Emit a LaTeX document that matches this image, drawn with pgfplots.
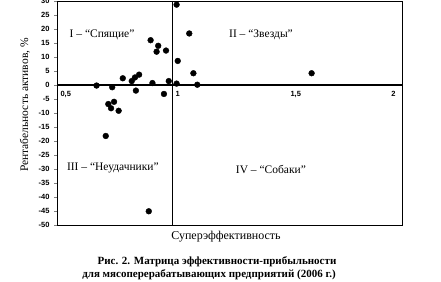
\documentclass[border=0pt]{standalone}
\usepackage{fontspec}
\setmainfont{Liberation Serif}
\setsansfont{Liberation Sans}
\usepackage{pgfplots}
\pgfplotsset{compat=1.18}
\begin{document}
\begin{tikzpicture}
\begin{axis}[
  at={(0pt,0pt)}, anchor=south west,
  scale only axis, width=345pt, height=224pt,
  xmin=0.5, xmax=2, ymin=-50, ymax=30,
  axis line style={line width=0.9pt},
  ytick={-50,-45,...,30},
  yticklabels={-50,-45,-40,-35,-30,-25,-20,-15,-10,-5,0,5,10,15,20,25,30},
  ytick pos=left, tick align=outside, major tick length=3pt,
  ytick style={line width=0.6pt},
  yticklabel style={font=\sffamily\bfseries\fontsize{7.5}{8}\selectfont, xshift=-1pt},
  xtick={0.5,1,1.5}, xticklabels={{0,5},{1},{1,5}},
  extra x ticks={2}, extra x tick labels={2},
  extra x tick style={xticklabel style={anchor=north east, xshift=-3pt}},
  xtick style={draw=none},
  xticklabel style={font=\sffamily\bfseries\fontsize{7.5}{8}\selectfont, anchor=north west, yshift=140pt, xshift=0pt},
  clip=false,
]
\draw[line width=1.6pt] (axis cs:0.5,0) -- (axis cs:2,0);
\draw[line width=0.8pt] (axis cs:1,-50) -- (axis cs:1,30);
\addplot[only marks, mark=*, mark size=2.9pt, black] coordinates {
(0.672,-0.2) (0.74,-0.8) (0.786,2.4) (0.825,1.4) (0.839,2.7) (0.857,3.7)
(0.843,-2) (0.907,16) (0.94,14) (0.933,11.9) (0.974,12.3) (0.915,0.7)
(0.965,-3.2) (0.986,1.4) (1.02,28.7) (1.025,8.6) (1.02,0.5) (1.075,18.4)
(1.093,4.2) (1.11,0.1) (0.723,-6.8) (0.735,-8.3) (0.748,-6) (0.768,-9.2)
(0.712,-18.2) (0.899,-45.1) (1.607,4.2)
};
\node[font=\fontsize{11.5}{13}\selectfont] at (axis cs:0.696,17.9) {I – “Спящие”};
\node[font=\fontsize{11.5}{13}\selectfont] at (axis cs:1.387,17.9) {II – “Звезды”};
\node[font=\fontsize{11.5}{13}\selectfont] at (axis cs:0.743,-29.6) {III – “Неудачники”};
\node[font=\fontsize{11.5}{13}\selectfont] at (axis cs:1.43,-30) {IV – “Собаки”};
\end{axis}
\node[font=\fontsize{12}{14}\selectfont] at (169pt,-12pt) {Суперэффективность};
\node[font=\fontsize{11.5}{13}\selectfont, rotate=90] at (-32pt,120pt) {Рентабельность активов, \%};
\node[font=\bfseries\fontsize{11}{13}\selectfont] at (160pt,-37pt) {Рис. 2. Матрица эффективности-прибыльности};
\node[font=\bfseries\fontsize{11}{13}\selectfont] at (152pt,-50pt) {для мясоперерабатывающих предприятий (2006 г.)};
\pgfresetboundingbox
\useasboundingbox (-57pt,-56pt) rectangle (384pt,225pt);
\end{tikzpicture}
\end{document}
